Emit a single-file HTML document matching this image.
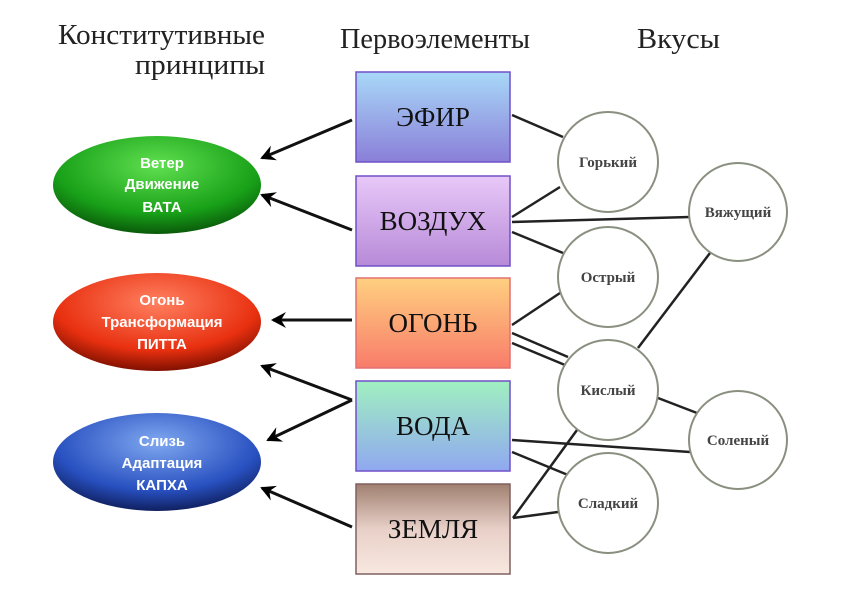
<!DOCTYPE html>
<html><head><meta charset="utf-8"><style>body{margin:0;background:#fff}svg{display:block}</style></head><body>
<svg width="848" height="600" viewBox="0 0 848 600" xmlns="http://www.w3.org/2000/svg">
<defs>
<linearGradient id="b1" x1="0" y1="0" x2="0" y2="1"><stop offset="0" stop-color="#a8d8f8"/><stop offset="1" stop-color="#8a7fd8"/></linearGradient>
<linearGradient id="b2" x1="0" y1="0" x2="0" y2="1"><stop offset="0" stop-color="#e8c8f8"/><stop offset="1" stop-color="#b78ad8"/></linearGradient>
<linearGradient id="b3" x1="0" y1="0" x2="0" y2="1"><stop offset="0" stop-color="#ffd080"/><stop offset="1" stop-color="#f87c6a"/></linearGradient>
<linearGradient id="b4" x1="0" y1="0" x2="0" y2="1"><stop offset="0" stop-color="#a0f0c0"/><stop offset="1" stop-color="#90a8f0"/></linearGradient>
<linearGradient id="b5" x1="0" y1="0" x2="0" y2="1"><stop offset="0" stop-color="#a08070"/><stop offset="0.5" stop-color="#e8d0c8"/><stop offset="1" stop-color="#f8e8e0"/></linearGradient>
<radialGradient id="eg" cx="0.5" cy="0.3" r="0.7"><stop offset="0" stop-color="#60e050"/><stop offset="0.7" stop-color="#18a018"/><stop offset="1" stop-color="#0a5a0a"/></radialGradient>
<radialGradient id="er" cx="0.5" cy="0.3" r="0.7"><stop offset="0" stop-color="#ff8060"/><stop offset="0.7" stop-color="#e83010"/><stop offset="1" stop-color="#801000"/></radialGradient>
<radialGradient id="eb" cx="0.5" cy="0.3" r="0.7"><stop offset="0" stop-color="#80a8f0"/><stop offset="0.7" stop-color="#2850c0"/><stop offset="1" stop-color="#102060"/></radialGradient>
<marker id="ar" markerWidth="16" markerHeight="16" refX="13" refY="8" orient="auto" markerUnits="userSpaceOnUse"><path d="M0,0 L15,8 L0,16 L5,8 Z" fill="#000"/></marker>
</defs>
<g font-family="Liberation Serif, serif" font-size="28" fill="#222">
<text x="58" y="44" textLength="207" lengthAdjust="spacingAndGlyphs">Конститутивные</text>
<text x="135" y="74" textLength="130" lengthAdjust="spacingAndGlyphs">принципы</text>
<text x="340" y="48" textLength="190" lengthAdjust="spacingAndGlyphs">Первоэлементы</text>
<text x="637" y="48" textLength="83" lengthAdjust="spacingAndGlyphs">Вкусы</text>
</g>
<g stroke="#222" stroke-width="2.5">
<line x1="512" y1="115" x2="563" y2="137"/><line x1="512" y1="217" x2="560" y2="187"/>
<line x1="512" y1="222" x2="690" y2="217"/><line x1="512" y1="232" x2="563" y2="253"/>
<line x1="512" y1="325" x2="560" y2="293"/><line x1="512" y1="333" x2="568" y2="357"/>
<line x1="512" y1="343" x2="565" y2="365"/><line x1="638" y1="348" x2="710" y2="253"/>
<line x1="658" y1="398" x2="697" y2="413"/><line x1="512" y1="440" x2="690" y2="452"/>
<line x1="512" y1="452" x2="568" y2="475"/><line x1="513" y1="518" x2="577" y2="430"/>
<line x1="513" y1="518" x2="558" y2="512"/>
</g>
<g stroke="#111" stroke-width="3" marker-end="url(#ar)">
<line x1="352" y1="120" x2="262" y2="158"/><line x1="352" y1="230" x2="262" y2="195"/>
<line x1="352" y1="320" x2="273" y2="320"/><line x1="352" y1="400" x2="262" y2="366"/>
<line x1="352" y1="400" x2="268" y2="440"/><line x1="352" y1="527" x2="262" y2="488"/>
</g>
<g stroke="#7050c8" stroke-width="1.5">
<rect x="356" y="72" width="154" height="90" fill="url(#b1)"/>
<rect x="356" y="176" width="154" height="90" fill="url(#b2)"/>
<rect x="356" y="278" width="154" height="90" fill="url(#b3)" stroke="#e07070"/>
<rect x="356" y="381" width="154" height="90" fill="url(#b4)"/>
<rect x="356" y="484" width="154" height="90" fill="url(#b5)" stroke="#806060"/>
</g>
<g font-family="Liberation Serif, serif" font-size="27" fill="#111" text-anchor="middle">
<text x="433" y="126">ЭФИР</text><text x="433" y="230">ВОЗДУХ</text><text x="433" y="332">ОГОНЬ</text>
<text x="433" y="435">ВОДА</text><text x="433" y="538">ЗЕМЛЯ</text>
</g>
<g fill="#fff" stroke="#8a9080" stroke-width="2">
<circle cx="608" cy="162" r="50"/><circle cx="738" cy="212" r="49"/><circle cx="608" cy="277" r="50"/>
<circle cx="608" cy="390" r="50"/><circle cx="738" cy="440" r="49"/><circle cx="608" cy="503" r="50"/>
</g>
<g font-family="Liberation Serif, serif" font-size="15" font-weight="bold" fill="#444" text-anchor="middle">
<text x="608" y="167">Горький</text><text x="738" y="217">Вяжущий</text><text x="608" y="282">Острый</text>
<text x="608" y="395">Кислый</text><text x="738" y="445">Соленый</text><text x="608" y="508">Сладкий</text>
</g>
<ellipse cx="157" cy="185" rx="104" ry="49" fill="url(#eg)"/>
<ellipse cx="157" cy="322" rx="104" ry="49" fill="url(#er)"/>
<ellipse cx="157" cy="462" rx="104" ry="49" fill="url(#eb)"/>
<g font-family="Liberation Sans, sans-serif" font-size="15" font-weight="bold" fill="#fff" text-anchor="middle">
<text x="162" y="168">Ветер</text><text x="162" y="189">Движение</text><text x="162" y="212">ВАТА</text>
<text x="162" y="305">Огонь</text><text x="162" y="327">Трансформация</text><text x="162" y="349">ПИТТА</text>
<text x="162" y="446">Слизь</text><text x="162" y="468">Адаптация</text><text x="162" y="490">КАПХА</text>
</g>
</svg>
</body></html>
